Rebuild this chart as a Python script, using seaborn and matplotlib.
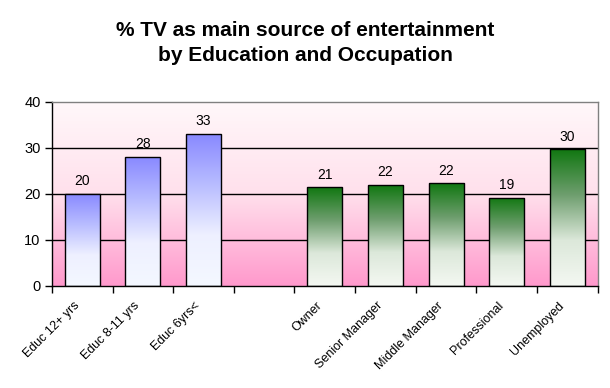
import numpy as np
import pandas as pn
import seaborn as sns
import matplotlib.pyplot as plt
import matplotlib.transforms as mtransforms
from matplotlib.colors import LinearSegmentedColormap

categories = ["Educ 12+ yrs", "Educ 8-11 yrs", "Educ 6yrs<",
              "Owner", "Senior Manager", "Middle Manager", "Professional", "Unemployed"]
values = [20, 28, 33, 21.4, 21.9, 22.3, 19.1, 29.7]
groups = ["Education"] * 3 + ["Occupation"] * 5
spacer = " "
order = categories[:3] + [spacer] + categories[3:]

df = pn.DataFrame({"category": categories, "value": values, "group": groups})

sns.set_theme(style="white")
plt.rcParams['font.family'] = ['Liberation Sans', 'DejaVu Sans']
plt.rcParams['text.color'] = 'black'
plt.rcParams['xtick.color'] = 'black'
plt.rcParams['ytick.color'] = 'black'
plt.rcParams['axes.labelcolor'] = 'black'

fig = plt.figure(figsize=(6.1, 3.88), dpi=100)
ax = fig.add_axes([0.085, 0.263, 0.895, 0.475])

sns.barplot(data=df, x="category", y="value", hue="group", order=order, dodge=False,
            width=0.58, palette=["#8c8cff", "#1a7a1a"], legend=False, ax=ax,
            edgecolor="black", linewidth=1, zorder=3)

ax.set_ylim(0, 40)
ax.set_xlim(-0.5, len(order) - 0.5)

# pink background gradient
bg = LinearSegmentedColormap.from_list("bg", ["#ff99cc", "#ffe0ec", "#fff8fa"])
ax.imshow(np.linspace(0, 1, 256).reshape(-1, 1), cmap=bg, origin="lower", aspect="auto",
          extent=[0, 1, 0, 1], transform=ax.transAxes, zorder=0)

blue = LinearSegmentedColormap.from_list("blue", ["#f4f8ff", "#eef0ff", "#b8bcff", "#8888ff"])
green = LinearSegmentedColormap.from_list("green", ["#f4f8f2", "#dce8da", "#6e9e6e", "#117711"])
grad = np.linspace(0, 1, 256).reshape(-1, 1)
for p in ax.patches:
    h = p.get_height()
    if not np.isfinite(h) or h == 0:
        continue
    x0 = p.get_x()
    w = p.get_width()
    fc = p.get_facecolor()
    cm = blue if fc[2] > fc[1] else green
    im = ax.imshow(grad, cmap=cm, origin="lower", aspect="auto",
                   extent=[x0, x0 + w, 0, h], zorder=2)
    im.set_clip_path(p)
    p.set_facecolor("none")

ax.set_xlim(-0.5, len(order) - 0.5)
ax.set_ylim(0, 40)

for c in ax.containers:
    ax.bar_label(c, labels=["%.0f" % v for v in c.datavalues], padding=4, fontsize=10,
                 color="black")

for yv in [10, 20, 30]:
    ax.axhline(yv, color="black", linewidth=1, zorder=1)

ax.set_yticks([0, 10, 20, 30, 40])
ax.tick_params(axis="y", direction="out", length=5, width=1, color="black", left=True,
               labelsize=10.5, pad=3, labelcolor="black")
ax.set_xticks(range(len(order)))
ax.set_xticklabels(order, rotation=45, ha="right", rotation_mode="anchor", fontsize=9)
ax.tick_params(axis="x", length=0, pad=10, labelcolor="black")
shift = mtransforms.ScaledTranslation(-9 / 100, 0, fig.dpi_scale_trans)
for lab in ax.get_xticklabels():
    lab.set_transform(lab.get_transform() + shift)
ax.set_xticks(np.arange(-0.5, len(order)), minor=True)
ax.tick_params(axis="x", which="minor", direction="out", length=5, width=1, color="black", bottom=True)

ax.set_xlabel("")
ax.set_ylabel("")
for s in ["left", "bottom"]:
    ax.spines[s].set_color("black")
    ax.spines[s].set_linewidth(1)
for s in ["top", "right"]:
    ax.spines[s].set_color("#808080")
    ax.spines[s].set_linewidth(1)

fig.suptitle("% TV as main source of entertainment\nby Education and Occupation",
             fontsize=15, fontweight="bold", y=0.945, linespacing=1.4, color="black")

fig.savefig("out.png", dpi=100, facecolor="white")
